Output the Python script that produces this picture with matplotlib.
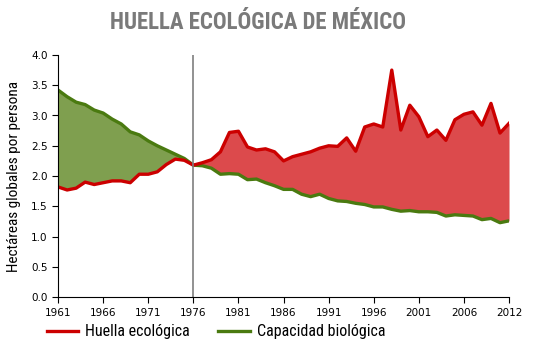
import matplotlib
matplotlib.use("Agg")
import matplotlib.pyplot as plt
from matplotlib.lines import Line2D

# Años 1961-2011 (la última etiqueta del eje dice 2012)
anios = list(range(1961, 2012))
etiquetas = ['1961', '1966', '1971', '1976', '1981', '1986', '1991',
             '1996', '2001', '2006', '2012']

# Huella ecológica (hag por persona)
huella = [1.82, 1.77, 1.80, 1.90, 1.86, 1.89, 1.92, 1.92, 1.89, 2.03,
          2.03, 2.07, 2.19, 2.28, 2.26, 2.18, 2.22, 2.27, 2.40, 2.72,
          2.74, 2.48, 2.43, 2.45, 2.40, 2.25, 2.32, 2.36, 2.40, 2.46,
          2.50, 2.49, 2.63, 2.41, 2.81, 2.86, 2.81, 3.75, 2.76, 3.17,
          2.98, 2.65, 2.76, 2.59, 2.93, 3.02, 3.06, 2.84, 3.20, 2.71,
          2.87]

# Capacidad biológica (hag por persona)
biocap = [3.42, 3.31, 3.22, 3.18, 3.09, 3.04, 2.94, 2.86, 2.73, 2.68,
          2.58, 2.50, 2.43, 2.36, 2.29, 2.18, 2.17, 2.13, 2.03, 2.04,
          2.03, 1.94, 1.95, 1.89, 1.84, 1.78, 1.78, 1.70, 1.66, 1.70,
          1.63, 1.59, 1.58, 1.55, 1.53, 1.49, 1.49, 1.45, 1.42, 1.43,
          1.41, 1.41, 1.40, 1.34, 1.36, 1.35, 1.34, 1.28, 1.30, 1.23,
          1.26]

x = list(range(len(anios)))
fuente = ['Roboto Condensed', 'DejaVu Sans']

fig = plt.figure(figsize=(5.33, 3.5), dpi=100)
ax = fig.add_axes([0.109, 0.151, 0.846, 0.692])

# rellenos: verde donde hay superávit, rojo donde hay déficit
ax.fill_between(x, huella, biocap, where=[b >= h for h, b in zip(huella, biocap)],
                interpolate=True, color='#7f9f4f', lw=0)
ax.fill_between(x, huella, biocap, where=[h >= b for h, b in zip(huella, biocap)],
                interpolate=True, color='#dc4a4c', lw=0)

ax.plot(x, biocap, color='#4a7a10', lw=2.4, solid_joinstyle='round')
ax.plot(x, huella, color='#cc0000', lw=2.4, solid_joinstyle='round')

# línea vertical en 1976
ax.axvline(anios.index(1976), color='#7f7f7f', lw=1.2)

ax.set_xlim(0, len(anios) - 1)
ax.set_ylim(0, 4)
ax.set_xticks(list(range(0, len(anios), 5)))
ax.set_xticklabels(etiquetas)
ax.set_yticks([i * 0.5 for i in range(9)])
ax.set_yticklabels(['%.1f' % (i * 0.5) for i in range(9)])
ax.tick_params(labelsize=7.5, length=4, width=0.8, direction='out')
for s in ['top', 'right']:
    ax.spines[s].set_visible(False)
ax.spines['left'].set_linewidth(0.8)
ax.spines['bottom'].set_linewidth(0.8)

ax.set_ylabel('Hectáreas globales por persona', family=fuente, fontsize=11,
              labelpad=7)

fig.text(0.484, 0.936, 'HUELLA ECOLÓGICA DE MÉXICO', family=fuente,
         fontsize=16.5, fontweight='bold', color='#7a7a7a', ha='center', va='center')

manijas = [Line2D([], [], color='#cc0000', lw=2.4),
           Line2D([], [], color='#4a7a10', lw=2.4)]
fig.legend(manijas, ['Huella ecológica', 'Capacidad biológica'],
           loc='center', bbox_to_anchor=(0.405, 0.052), ncol=2, frameon=False,
           prop={'family': fuente, 'size': 11.5}, handlelength=2.0,
           handletextpad=0.4, columnspacing=1.8)

fig.savefig('out.png', dpi=100)
